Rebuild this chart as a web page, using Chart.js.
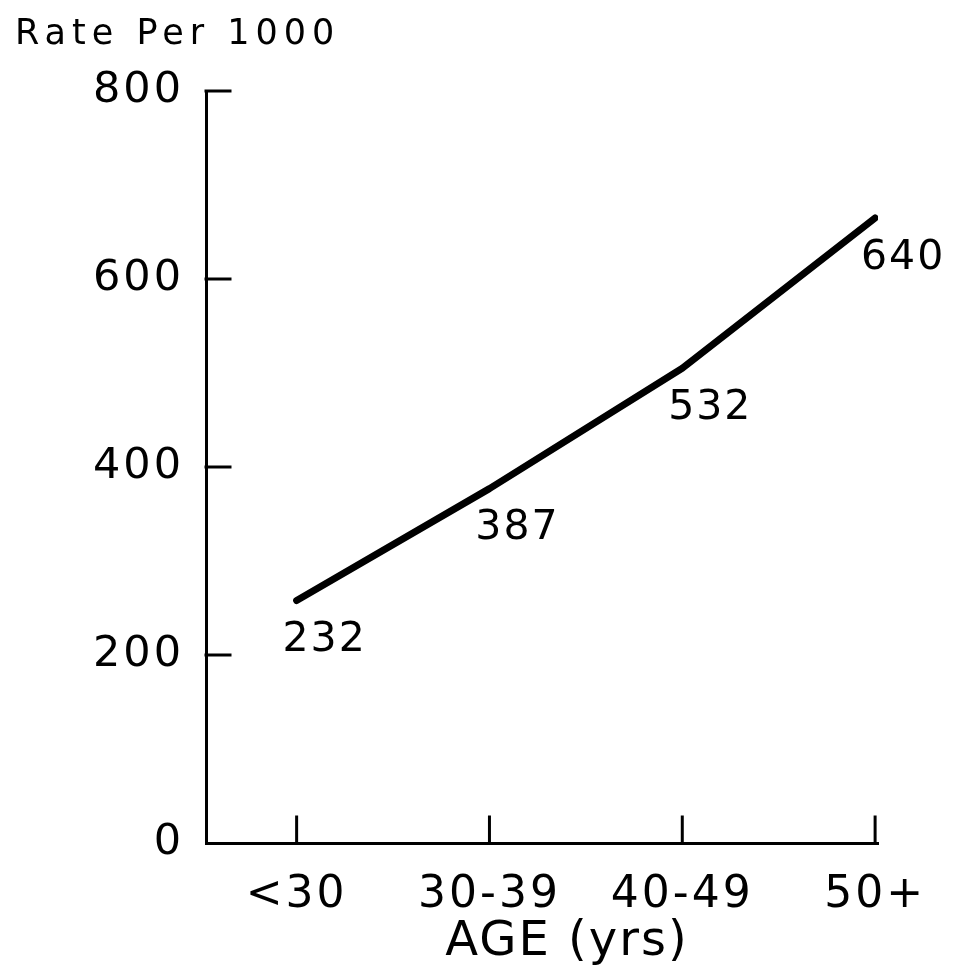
<!DOCTYPE html>
<html>
<head>
<meta charset="utf-8">
<title>Rate Per 1000 by Age</title>
<script src="https://cdn.jsdelivr.net/npm/chart.js@4/dist/chart.umd.min.js"></script>
<style>
  html, body { margin: 0; padding: 0; background: #fff; }
  #wrap { width: 955px; height: 974px; }
</style>
</head>
<body>
<div id="wrap"><canvas id="rateChart" width="955" height="974"></canvas></div>
<script>
// age groups on the x axis
const ageGroups = ['<30', '30-39', '40-49', '50+'];
// rates printed next to the line
const rateLabels = ['232', '387', '532', '640'];
// where the line is actually drawn
const plottedRates = [258, 377, 505, 665];
// y axis ticks
const yTicks = [0, 200, 400, 600, 800];

const fontFamily = '"DejaVu Sans", "Liberation Sans", sans-serif';

// titles, inward tick marks and point labels
const paperPlugin = {
    id: 'paper',
    beforeDraw(chart) {
        chart.ctx.letterSpacing = '3px';
    },
    afterDraw(chart) {
        const ctx = chart.ctx;
        const x = chart.scales.x;
        const y = chart.scales.y;
        const area = chart.chartArea;

        ctx.save();
        ctx.strokeStyle = '#000';
        ctx.lineWidth = 3;
        ctx.lineCap = 'square';
        // y ticks point into the plot
        yTicks.forEach(v => {
            if (v === 0) return;
            const py = y.getPixelForValue(v);
            ctx.beginPath();
            ctx.moveTo(area.left, py);
            ctx.lineTo(area.left + 24, py);
            ctx.stroke();
        });
        // x ticks point up
        ageGroups.forEach((g, i) => {
            const px = x.getPixelForValue(i);
            ctx.beginPath();
            ctx.moveTo(px, area.bottom);
            ctx.lineTo(px, area.bottom - 26);
            ctx.stroke();
        });

        // value labels below right of each point
        const meta = chart.getDatasetMeta(0);
        ctx.fillStyle = '#000';
        ctx.font = '41px ' + fontFamily;
        ctx.letterSpacing = '2px';
        ctx.textAlign = 'center';
        ctx.textBaseline = 'middle';
        meta.data.forEach((pt, i) => {
            ctx.fillText(rateLabels[i], pt.x + 28, pt.y + 40);
        });

        // x axis title, a bit right of centre as in the original
        ctx.font = '48px ' + fontFamily;
        ctx.letterSpacing = '2px';
        ctx.fillText('AGE (yrs)', 567, 943);

        // y axis title on top left
        ctx.font = '35px ' + fontFamily;
        ctx.letterSpacing = '6px';
        ctx.textAlign = 'left';
        ctx.fillText('Rate Per 1000', 15, 35);
        ctx.restore();
    }
};

new Chart(document.getElementById('rateChart'), {
    type: 'line',
    data: {
        datasets: [{
            label: 'Rate Per 1000',
            data: plottedRates.map((v, i) => ({ x: i, y: v })),
            borderColor: '#000',
            borderWidth: 7,
            borderCapStyle: 'round',
            borderJoinStyle: 'round',
            pointRadius: 0,
            tension: 0,
            fill: false
        }]
    },
    options: {
        responsive: false,
        animation: false,
        layout: {
            padding: { top: 91, right: 77, bottom: 0, left: 0 }
        },
        scales: {
            x: {
                type: 'linear',
                min: -0.47,
                max: 3.015,
                afterFit: s => { s.height = 131; },
                afterBuildTicks: s => { s.ticks = ageGroups.map((g, i) => ({ value: i })); },
                grid: { display: true, drawOnChartArea: false, drawTicks: false },
                border: { display: true, color: '#000', width: 3 },
                ticks: {
                    color: '#000',
                    padding: 26,
                    maxRotation: 0,
                    font: { family: fontFamily, size: 44 },
                    callback: v => ageGroups[v]
                }
            },
            y: {
                min: 0,
                max: 800,
                afterFit: s => { s.width = 206; },
                afterBuildTicks: s => { s.ticks = yTicks.map(v => ({ value: v })); },
                grid: { display: true, drawOnChartArea: false, drawTicks: false },
                border: { display: true, color: '#000', width: 3 },
                ticks: {
                    color: '#000',
                    padding: 22,
                    font: { family: fontFamily, size: 43 }
                }
            }
        },
        plugins: {
            legend: { display: false },
            tooltip: { enabled: false },
            title: { display: false }
        }
    },
    plugins: [paperPlugin]
});
</script>
</body>
</html>
